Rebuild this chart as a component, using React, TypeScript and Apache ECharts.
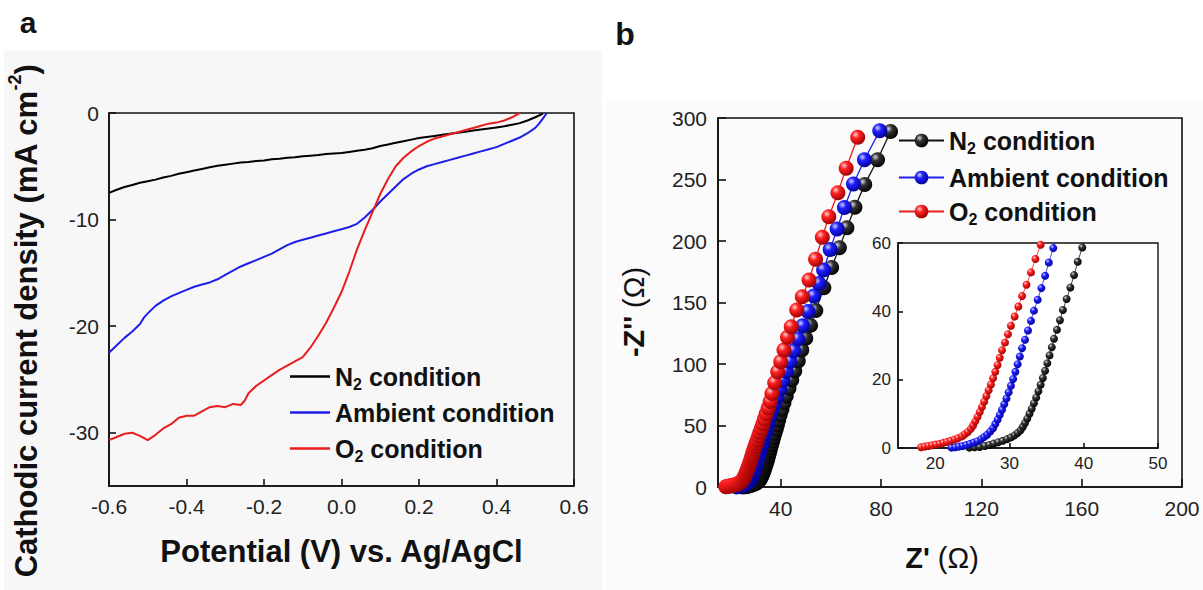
import { useEffect, useRef } from 'react';
import * as echarts from 'echarts';

const FF = '"Liberation Sans", Arial, Helvetica, sans-serif';

// ---------- Panel a : LSV curves ----------
const potentialTicks = [-0.6, -0.4, -0.2, 0, 0.2, 0.4, 0.6];
const currentTicks = [-30, -20, -10, 0];

const lsvN2: [number, number][] = [
  [-0.60, -7.5], [-0.58, -7.2], [-0.56, -6.95], [-0.54, -6.75], [-0.52, -6.55], [-0.50, -6.4],
  [-0.48, -6.25], [-0.46, -6.05], [-0.44, -5.9], [-0.42, -5.7], [-0.40, -5.55], [-0.38, -5.4],
  [-0.36, -5.25], [-0.34, -5.1], [-0.32, -4.95], [-0.30, -4.85], [-0.28, -4.75], [-0.26, -4.65],
  [-0.24, -4.6], [-0.22, -4.5], [-0.20, -4.45], [-0.18, -4.35], [-0.16, -4.3], [-0.14, -4.2],
  [-0.12, -4.15], [-0.10, -4.05], [-0.08, -4.0], [-0.06, -3.95], [-0.04, -3.85], [-0.02, -3.8],
  [0.00, -3.75], [0.02, -3.65], [0.04, -3.55], [0.06, -3.45], [0.08, -3.3], [0.10, -3.1],
  [0.12, -2.95], [0.14, -2.8], [0.16, -2.65], [0.18, -2.5], [0.20, -2.35], [0.22, -2.25],
  [0.24, -2.15], [0.26, -2.05], [0.28, -1.95], [0.30, -1.85], [0.32, -1.75], [0.34, -1.65],
  [0.36, -1.55], [0.38, -1.45], [0.40, -1.35], [0.42, -1.25], [0.44, -1.1], [0.46, -0.95],
  [0.48, -0.7], [0.50, -0.4], [0.52, -0.05],
];

const lsvAmbient: [number, number][] = [
  [-0.60, -22.5], [-0.58, -21.8], [-0.56, -21.1], [-0.54, -20.5], [-0.52, -19.8], [-0.51, -19.2],
  [-0.50, -18.8], [-0.48, -18.1], [-0.46, -17.6], [-0.44, -17.2], [-0.42, -16.9], [-0.40, -16.6],
  [-0.38, -16.3], [-0.36, -16.1], [-0.34, -15.9], [-0.32, -15.6], [-0.30, -15.2], [-0.28, -14.8],
  [-0.26, -14.4], [-0.24, -14.1], [-0.22, -13.8], [-0.20, -13.5], [-0.18, -13.2], [-0.16, -12.8],
  [-0.14, -12.4], [-0.12, -12.1], [-0.10, -11.9], [-0.08, -11.7], [-0.06, -11.5], [-0.04, -11.3],
  [-0.02, -11.1], [0.00, -10.9], [0.02, -10.7], [0.04, -10.4], [0.06, -9.8], [0.08, -9.1],
  [0.10, -8.3], [0.12, -7.6], [0.14, -6.9], [0.16, -6.2], [0.18, -5.7], [0.20, -5.3],
  [0.22, -5.0], [0.24, -4.8], [0.26, -4.6], [0.28, -4.4], [0.30, -4.2], [0.32, -4.0],
  [0.34, -3.8], [0.36, -3.6], [0.38, -3.4], [0.40, -3.2], [0.42, -2.9], [0.44, -2.6],
  [0.46, -2.3], [0.48, -1.9], [0.50, -1.4], [0.51, -1.0], [0.52, -0.5], [0.53, 0.0],
];

const lsvO2: [number, number][] = [
  [-0.60, -30.7], [-0.58, -30.4], [-0.56, -30.1], [-0.54, -30.0], [-0.52, -30.3], [-0.50, -30.7],
  [-0.48, -30.2], [-0.46, -29.6], [-0.44, -29.2], [-0.42, -28.6], [-0.40, -28.4], [-0.38, -28.4],
  [-0.36, -28.0], [-0.34, -27.6], [-0.32, -27.5], [-0.30, -27.6], [-0.28, -27.3], [-0.26, -27.4],
  [-0.25, -27.0], [-0.24, -26.3], [-0.22, -25.6], [-0.20, -25.1], [-0.18, -24.6], [-0.16, -24.1],
  [-0.14, -23.7], [-0.12, -23.3], [-0.10, -22.9], [-0.08, -22.0], [-0.06, -20.9], [-0.04, -19.7],
  [-0.02, -18.3], [0.00, -16.8], [0.02, -14.9], [0.04, -12.8], [0.06, -11.0], [0.08, -9.3],
  [0.10, -7.6], [0.12, -6.2], [0.14, -5.0], [0.16, -4.2], [0.18, -3.6], [0.20, -3.1],
  [0.22, -2.7], [0.24, -2.4], [0.26, -2.2], [0.28, -2.0], [0.30, -1.8], [0.32, -1.6],
  [0.34, -1.4], [0.36, -1.2], [0.38, -1.0], [0.40, -0.9], [0.42, -0.7], [0.44, -0.4], [0.46, 0.0],
];

// ---------- Panel b : Nyquist plots ----------
const zReTicks = [40, 80, 120, 160, 200];
const zImTicks = [0, 50, 100, 150, 200, 250, 300];
const insetReTicks = [20, 30, 40, 50];
const insetImTicks = [0, 20, 40, 60];

const eisN2: [number, number][] = [
  [24.6, 0.1], [25.3, 0.2], [26.0, 0.3], [26.7, 0.6], [27.3, 0.9], [27.9, 1.3], [28.5, 1.7],
  [29.1, 2.1], [29.7, 2.6], [30.2, 3.1], [30.7, 3.7], [31.1, 4.4], [31.5, 5.2], [31.8, 6.2],
  [32.1, 7.3], [32.4, 8.6], [32.7, 10.0], [33.0, 11.5], [33.3, 13.1], [33.6, 14.8], [33.9, 16.6],
  [34.2, 18.5], [34.5, 20.5], [34.8, 22.6], [35.1, 24.8], [35.4, 27.1], [35.7, 29.5], [36.0, 32.0],
  [36.4, 34.6], [36.8, 37.4], [37.2, 40.4], [37.7, 43.6], [38.2, 47.0], [38.7, 50.6], [39.2, 54.5],
  [39.8, 58.7], [40.5, 63.3], [41.3, 68.4], [42.2, 74.0], [43.3, 80.2], [44.4, 87.0], [45.6, 94.4],
  [47.0, 102.5], [48.4, 111.3], [50.0, 120.9], [51.9, 131.4], [54.0, 143.5], [57.2, 162.0],
  [60.3, 178.4], [63.4, 194.6], [66.4, 210.8], [69.6, 227.5], [73.5, 246.0], [78.6, 266.0], [83.8, 289.0],
];

const eisAmbient: [number, number][] = [
  [22.2, 0.1], [22.7, 0.2], [23.2, 0.4], [23.7, 0.6], [24.2, 0.9], [24.7, 1.2], [25.2, 1.6],
  [25.7, 2.0], [26.2, 2.6], [26.6, 3.2], [27.0, 3.9], [27.4, 4.8], [27.8, 5.8], [28.1, 7.0],
  [28.4, 8.3], [28.7, 9.7], [29.0, 11.2], [29.3, 12.8], [29.6, 14.5], [29.9, 16.3], [30.2, 18.2],
  [30.5, 20.2], [30.8, 22.3], [31.1, 24.5], [31.4, 26.8], [31.7, 29.2], [32.1, 31.7], [32.5, 34.4],
  [32.9, 37.2], [33.3, 40.2], [33.8, 43.4], [34.3, 46.8], [34.8, 50.4], [35.3, 54.3], [35.9, 58.5],
  [36.7, 63.0], [37.6, 68.0], [38.6, 73.6], [39.7, 79.8], [40.9, 86.6], [42.2, 94.0], [43.7, 102.0],
  [45.2, 110.8], [46.9, 120.4], [48.8, 131.0], [50.9, 142.6], [53.2, 155.2], [55.3, 165.5],
  [57.1, 176.4], [59.7, 193.0], [62.5, 209.8], [65.4, 227.2], [69.0, 246.4], [73.4, 266.0], [79.5, 289.7],
];

const eisO2: [number, number][] = [
  [18.1, 0.2], [18.6, 0.4], [19.1, 0.6], [19.6, 0.8], [20.1, 1.0], [20.6, 1.2], [21.1, 1.5],
  [21.6, 1.8], [22.1, 2.1], [22.6, 2.5], [23.1, 2.9], [23.6, 3.4], [24.0, 4.0], [24.4, 4.7],
  [24.8, 5.6], [25.1, 6.6], [25.4, 7.8], [25.7, 9.1], [26.0, 10.5], [26.3, 12.0], [26.6, 13.6],
  [26.9, 15.2], [27.2, 16.9], [27.5, 18.6], [27.8, 20.4], [28.1, 22.3], [28.4, 24.3], [28.7, 26.4],
  [29.0, 28.6], [29.4, 30.9], [29.8, 33.3], [30.2, 35.8], [30.7, 38.5], [31.2, 41.4], [31.7, 44.5],
  [32.3, 47.8], [32.9, 51.4], [33.5, 55.3], [34.2, 59.5], [35.0, 64.2], [35.8, 69.6], [36.5, 76.0],
  [37.6, 84.8], [38.8, 93.7], [40.0, 101.9], [41.3, 111.4], [42.7, 121.7], [44.2, 130.3],
  [46.4, 143.9], [48.6, 154.7], [51.3, 168.3], [53.9, 185.1], [56.6, 203.0], [59.2, 219.8],
  [62.8, 239.3], [66.1, 259.1], [70.7, 284.3],
];

const BLACK = '#111111';
const BLUE = '#1e1ee8';
const RED = '#e81e1e';

const ball = (light: string, mid: string, dark: string) => ({
  type: 'radial', x: 0.36, y: 0.32, r: 0.72,
  colorStops: [
    { offset: 0, color: light },
    { offset: 0.35, color: mid },
    { offset: 1, color: dark },
  ],
});
const ballBlack = ball('#d8d8d8', '#333333', '#000000');
const ballBlue = ball('#d0d0ff', '#2020ff', '#000090');
const ballRed = ball('#ffd0d0', '#ff2020', '#980000');

const legendLabels: Record<string, string> = {
  'a-N2': '{t|N}{s|2}{t| condition}',
  'a-Amb': '{t|Ambient condition}',
  'a-O2': '{t|O}{s|2}{t| condition}',
  'b-N2': '{t|N}{s|2}{t| condition}',
  'b-Amb': '{t|Ambient condition}',
  'b-O2': '{t|O}{s|2}{t| condition}',
};

const legendRich = {
  t: { fontFamily: FF, fontWeight: 'bold', fontSize: 25, color: '#111', lineHeight: 32, verticalAlign: 'middle' },
  s: { fontFamily: FF, fontWeight: 'bold', fontSize: 16, color: '#111', lineHeight: 32, verticalAlign: 'bottom' },
};

// one legend component per entry, so each row sits where the reference has it
const legendRows = [
  { name: 'a-N2', left: 290, cy: 380, w: 40, h: 2.5, icon: 'rect' },
  { name: 'a-Amb', left: 290, cy: 416, w: 40, h: 2.5, icon: 'rect' },
  { name: 'a-O2', left: 290, cy: 452, w: 40, h: 2.5, icon: 'rect' },
  { name: 'b-N2', left: 898, cy: 144, w: 45, h: 17, icon: undefined },
  { name: 'b-Amb', left: 898, cy: 181, w: 45, h: 17, icon: undefined },
  { name: 'b-O2', left: 898, cy: 215, w: 45, h: 17, icon: undefined },
];

const axisBase = (fontSize: number, tickLen: number, margin: number) => ({
  type: 'value',
  axisLine: { show: true, onZero: false, lineStyle: { color: '#111', width: 1.6 } },
  axisTick: { show: true, inside: true, length: tickLen, lineStyle: { color: '#111', width: 1.6 } },
  axisLabel: { color: '#222', fontSize, fontFamily: FF, margin },
  splitLine: { show: false },
});

export default function App() {
  const ref = useRef<HTMLDivElement>(null);

  useEffect(() => {
    document.body.style.margin = '0';
    if (!ref.current) return;
    const chart = echarts.init(ref.current, undefined, { renderer: 'svg' });

    const lsvSeries = (name: string, data: [number, number][], color: string) => ({
      type: 'line', name, data, xAxisIndex: 0, yAxisIndex: 0, symbol: 'none',
      lineStyle: { color, width: 2 }, itemStyle: { color }, z: 3,
    });
    const eisSeries = (name: string, data: [number, number][], color: string, fill: any, axis: number, size: number, lw: number) => ({
      type: 'line', name, data, xAxisIndex: axis, yAxisIndex: axis, symbol: 'circle', symbolSize: size,
      showSymbol: true, clip: true,
      lineStyle: { color, width: lw }, itemStyle: { color: fill, borderWidth: 0 }, z: 3,
    });

    const b0 = axisBase(21, 7, 10);
    const b1 = axisBase(21, 8, 11);
    const b2 = axisBase(17, 5, 7);

    const option: any = {
      animation: false,
      backgroundColor: '#ffffff',
      textStyle: { fontFamily: FF },
      graphic: [
        { type: 'rect', z: -10, silent: true, shape: { x: 4, y: 50, width: 598, height: 540 }, style: { fill: '#f7f7f7' } },
        { type: 'rect', z: -10, silent: true, shape: { x: 606, y: 100, width: 597, height: 490 }, style: { fill: '#fbfbfb' } },
        { type: 'text', x: 28, y: 22.5, style: { text: 'a', fontFamily: FF, fontWeight: 'bold', fontSize: 30, fill: '#111', align: 'center', verticalAlign: 'middle' } },
        { type: 'text', x: 625, y: 34, style: { text: 'b', fontFamily: FF, fontWeight: 'bold', fontSize: 32, fill: '#111', align: 'center', verticalAlign: 'middle' } },
        {
          type: 'text', x: 26, y: 321, rotation: Math.PI / 2,
          style: {
            text: '{t|Cathodic current density (mA cm}{u|-2}{t|)}',
            align: 'center', verticalAlign: 'middle',
            rich: {
              t: { fontFamily: FF, fontWeight: 'bold', fontSize: 31, fill: '#111', lineHeight: 40, verticalAlign: 'middle' },
              u: { fontFamily: FF, fontWeight: 'bold', fontSize: 18, fill: '#111', lineHeight: 40, verticalAlign: 'top' },
            },
          },
        },
        {
          type: 'text', x: 634, y: 312, rotation: Math.PI / 2,
          style: {
            text: "{t|-Z''}{n| (Ω)}",
            align: 'center', verticalAlign: 'middle',
            rich: {
              t: { fontFamily: FF, fontWeight: 'bold', fontSize: 29, fill: '#111', lineHeight: 34 },
              n: { fontFamily: FF, fontSize: 29, fill: '#111', lineHeight: 34 },
            },
          },
        },
      ],
      grid: [
        { left: 109, top: 113, width: 465, height: 373, show: true, borderColor: '#111', borderWidth: 1.6, backgroundColor: 'transparent' },
        { left: 718, top: 118, width: 464, height: 369, show: true, borderColor: '#111', borderWidth: 1.6, backgroundColor: 'transparent' },
        { left: 898, top: 243, width: 260, height: 205, show: true, borderColor: '#111', borderWidth: 1.4, backgroundColor: '#ffffff' },
      ],
      xAxis: [
        {
          ...b0, gridIndex: 0, min: -0.6, max: 0.6, interval: 0.2,
          axisLabel: { ...b0.axisLabel, formatter: (v: number) => v.toFixed(1) },
          axisTick: { ...b0.axisTick, customValues: potentialTicks },
          name: 'Potential (V) vs. Ag/AgCl', nameLocation: 'middle', nameGap: 50,
          nameTextStyle: { fontFamily: FF, fontWeight: 'bold', fontSize: 31, color: '#111' },
        },
        {
          ...b1, gridIndex: 1, min: 15, max: 200,
          axisLabel: { ...b1.axisLabel, customValues: zReTicks },
          axisTick: { ...b1.axisTick, customValues: zReTicks },
          name: "{t|Z'}{n| (Ω)}", nameLocation: 'middle', nameGap: 56,
          nameTextStyle: {
            padding: [0, 16, 0, 0],
            rich: {
              t: { fontFamily: FF, fontWeight: 'bold', fontSize: 29, color: '#111' },
              n: { fontFamily: FF, fontSize: 29, color: '#111' },
            },
          },
        },
        {
          ...b2, gridIndex: 2, min: 15, max: 50,
          axisLabel: { ...b2.axisLabel, customValues: insetReTicks },
          axisTick: { ...b2.axisTick, customValues: insetReTicks },
        },
      ],
      yAxis: [
        {
          ...b0, gridIndex: 0, min: -35, max: 0,
          axisLabel: { ...b0.axisLabel, customValues: currentTicks },
          axisTick: { ...b0.axisTick, customValues: currentTicks },
        },
        {
          ...b1, gridIndex: 1, min: 0, max: 300, interval: 50,
          axisLabel: { ...b1.axisLabel, customValues: zImTicks },
          axisTick: { ...b1.axisTick, customValues: zImTicks },
        },
        {
          ...b2, gridIndex: 2, min: 0, max: 60, interval: 20,
          axisLabel: { ...b2.axisLabel, customValues: insetImTicks },
          axisTick: { ...b2.axisTick, customValues: insetImTicks },
        },
      ],
      legend: legendRows.map((r) => ({
        data: [r.name], orient: 'vertical', left: r.left, top: r.cy - 16,
        padding: 0, itemGap: 0, itemWidth: r.w, itemHeight: r.h,
        ...(r.icon ? { icon: r.icon } : {}),
        selectedMode: false,
        formatter: (name: string) => legendLabels[name],
        textStyle: { rich: legendRich },
      })),
      series: [
        lsvSeries('a-N2', lsvN2, '#000000'),
        lsvSeries('a-Amb', lsvAmbient, BLUE),
        lsvSeries('a-O2', lsvO2, RED),
        eisSeries('b-N2', eisN2, BLACK, ballBlack, 1, 15, 1.3),
        eisSeries('b-Amb', eisAmbient, BLUE, ballBlue, 1, 15, 1.3),
        eisSeries('b-O2', eisO2, RED, ballRed, 1, 15, 1.3),
        eisSeries('i-N2', eisN2, BLACK, ballBlack, 2, 8, 0.8),
        eisSeries('i-Amb', eisAmbient, BLUE, ballBlue, 2, 8, 0.8),
        eisSeries('i-O2', eisO2, RED, ballRed, 2, 8, 0.8),
      ],
    };

    chart.setOption(option);
    return () => chart.dispose();
  }, []);

  return <div ref={ref} style={{ width: 1203, height: 590 }} />;
}
